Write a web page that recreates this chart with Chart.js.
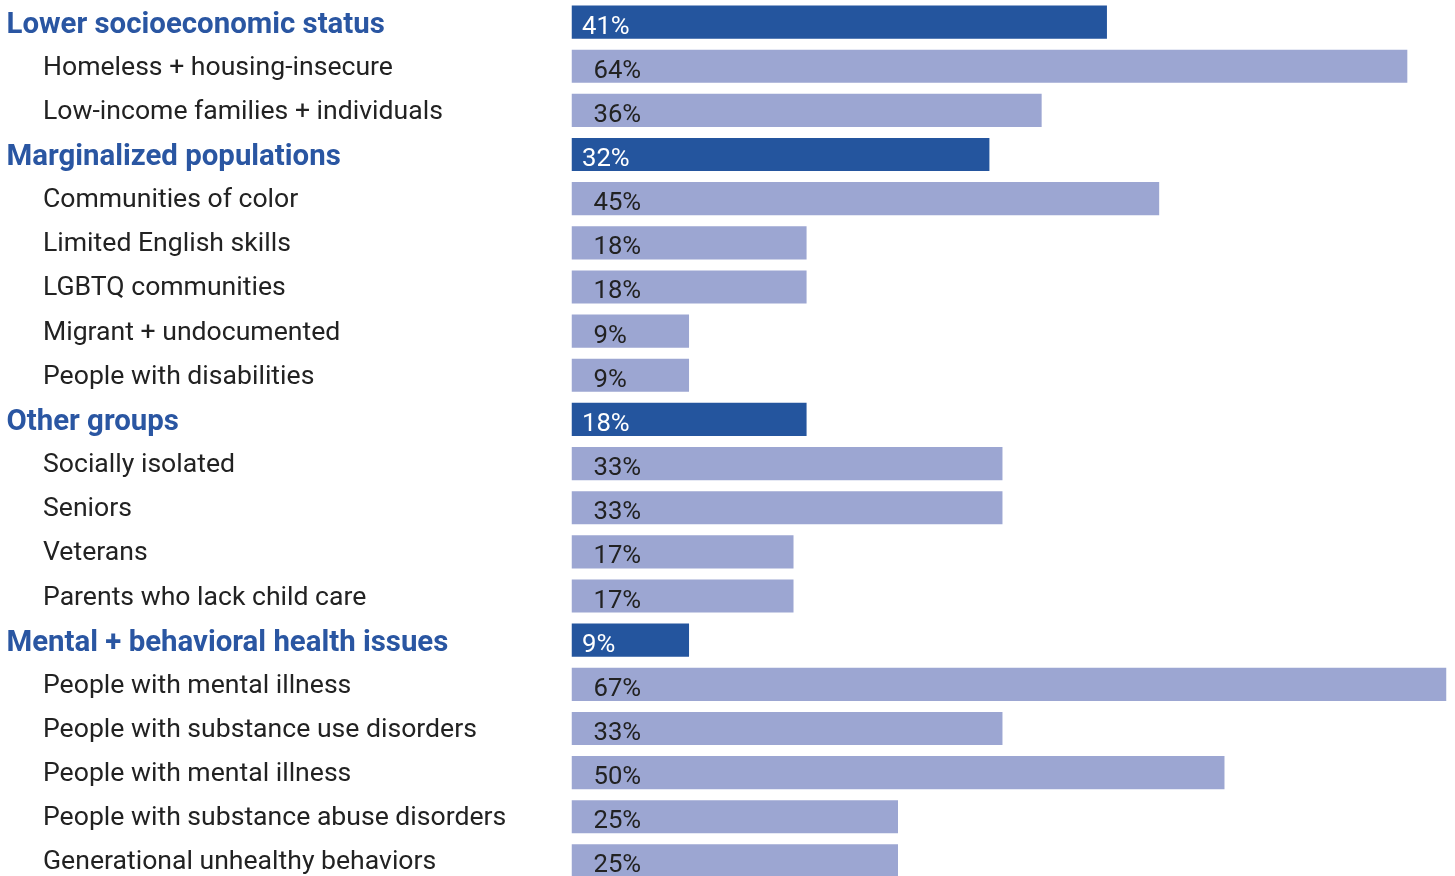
<!DOCTYPE html>
<html>
<head>
<meta charset="utf-8">
<title>Groups served</title>
<script src="https://cdn.jsdelivr.net/npm/chart.js@4"></script>
<style>
  html, body { margin: 0; padding: 0; background: #fff; overflow: hidden; }
  #wrap { width: 1455px; height: 883px; }
</style>
</head>
<body>
<div id="wrap"><canvas id="chart"></canvas></div>
<script>
// Row labels, top to bottom
const labels = [
  'Lower socioeconomic status',
  'Homeless + housing-insecure',
  'Low-income families + individuals',
  'Marginalized populations',
  'Communities of color',
  'Limited English skills',
  'LGBTQ communities',
  'Migrant + undocumented',
  'People with disabilities',
  'Other groups',
  'Socially isolated',
  'Seniors',
  'Veterans',
  'Parents who lack child care',
  'Mental + behavioral health issues',
  'People with mental illness',
  'People with substance use disorders',
  'People with mental illness',
  'People with substance abuse disorders',
  'Generational unhealthy behaviors'
];

// Share of respondents, percent
const values = [41, 64, 36, 32, 45, 18, 18, 9, 9, 18, 33, 33, 17, 17, 9, 67, 33, 50, 25, 25];

// Which rows are group headings
const isGroup = [true, false, false, true, false, false, false, false, false, true,
                 false, false, false, false, true, false, false, false, false, false];

const DARK = '#24559e';
const LIGHT = '#9ca6d2';
const FONT = 'Roboto, "Noto Sans", sans-serif';

// Draws row labels on the left and percentages inside the bars
const labelPlugin = {
  id: 'rowLabels',
  afterDatasetsDraw(chart) {
    const ctx = chart.ctx;
    const y = chart.scales.y;
    const x = chart.scales.x;
    const x0 = x.getPixelForValue(0);
    ctx.save();
    ctx.textBaseline = 'alphabetic';
    ctx.textAlign = 'left';
    labels.forEach((lab, i) => {
      const py = y.getPixelForValue(i);
      if (isGroup[i]) {
        ctx.font = 'bold 29.4px ' + FONT;
        ctx.fillStyle = '#2a56a2';
        ctx.fillText(lab, 6.5, py + 10.5);
      } else {
        ctx.font = '26.6px ' + FONT;
        ctx.fillStyle = '#222';
        ctx.fillText(lab, 43, py + 8.5);
      }
      ctx.font = '25.7px ' + FONT;
      ctx.fillStyle = isGroup[i] ? '#fff' : '#222';
      ctx.fillText(values[i] + '%', x0 + (isGroup[i] ? 10.5 : 22), py + 11.5);
    });
    ctx.restore();
  }
};

new Chart(document.getElementById('chart'), {
  type: 'bar',
  data: {
    labels: labels,
    datasets: [{
      data: values,
      backgroundColor: isGroup.map(g => g ? DARK : LIGHT),
      borderWidth: 0,
      barPercentage: 0.75,
      categoryPercentage: 1
    }]
  },
  options: {
    indexAxis: 'y',
    responsive: true,
    maintainAspectRatio: false,
    animation: false,
    layout: { padding: { left: 571.5, right: 8.5, top: 0, bottom: 0 } },
    plugins: {
      legend: { display: false },
      tooltip: { enabled: false }
    },
    scales: {
      x: { display: false, min: 0, max: 67 },
      y: { display: false, grid: { display: false } }
    }
  },
  plugins: [labelPlugin]
});
</script>
</body>
</html>
